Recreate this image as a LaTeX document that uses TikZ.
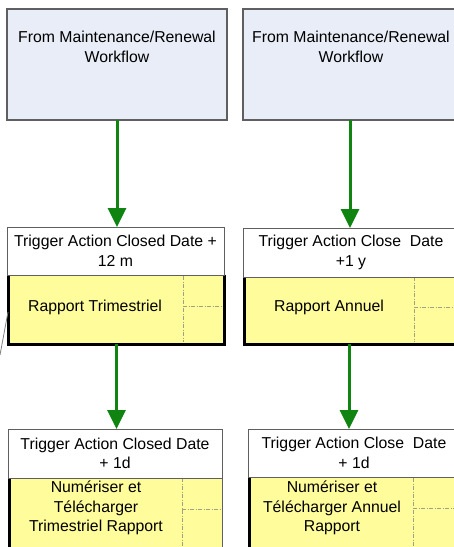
\documentclass[tikz,border=0pt]{standalone}
\usepackage{fontspec}
\setmainfont{Liberation Sans}
\usetikzlibrary{arrows.meta}
\definecolor{boxblue}{RGB}{232,237,247}
\definecolor{boxyellow}{RGB}{255,252,155}
\definecolor{arrowgreen}{RGB}{16,132,16}
\definecolor{bordergray}{RGB}{95,95,95}
\definecolor{divgray}{RGB}{160,160,130}
\begin{document}
\begin{tikzpicture}[x=1pt,y=-1pt,
  every node/.style={font=\fontsize{15.8}{19.5}\selectfont, inner sep=0pt, outer sep=0pt},
  bluebox/.style={draw=bordergray, line width=1.4pt, fill=boxblue, anchor=north west},
  trigbox/.style={draw=bordergray, line width=1pt, fill=white, anchor=north west, align=center},
  yellowbox/.style={fill=boxyellow, anchor=north west},
  yborder/.style={draw=black, line width=3pt},
  divider/.style={draw=divgray, line width=0.7pt, dash pattern=on 4pt off 1.5pt on 1pt off 1.5pt},
  greenarrow/.style={draw=arrowgreen, line width=3pt, -{Triangle[width=18pt,length=19pt]}, shorten >=0pt},
  lbl/.style={align=center, text=black},
  thinline/.style={draw=gray, line width=0.8pt}
]
\useasboundingbox (0,0) rectangle (454,547);

% ---- top blue boxes
\node[bluebox, minimum width=220pt, minimum height=111pt] (b1) at (7,9) {};
\node[lbl] (b1t) at (117,47) {From Maintenance/Renewal\\Workflow};
\node[bluebox, minimum width=216pt, minimum height=111pt] (b2) at (243,9) {};
\node[lbl] (b2t) at (351,47) {From Maintenance/Renewal\\Workflow};

% ---- upper yellow boxes
\node[yellowbox, minimum width=216pt, minimum height=69pt] (y1) at (8.5,275) {};
\draw[yborder] (y1.north west) |- (y1.south east) -- (y1.north east);
\draw[divider] (183,276) -- (183,342);
\draw[divider] (183,306) -- (223,306);
\node[lbl] (y1t) at (95,307) {Rapport Trimestriel};

\node[yellowbox, minimum width=218pt, minimum height=68pt] (y2) at (244.5,276) {};
\draw[yborder] (y2.north west) |- (y2.south east);
\draw[divider] (414,277) -- (414,342);
\draw[divider] (414,307) -- (454,307);
\node[lbl] (y2t) at (329,307) {Rapport Annuel};

% ---- upper trigger boxes
\node[trigbox, minimum width=217pt, minimum height=48pt] (t1) at (7,227) {Trigger Action Closed Date +\\12 m};
\node[trigbox, minimum width=216pt, minimum height=49pt] (t2) at (243,228) {Trigger Action Close\ \ Date\\+1 y};

% ---- lower yellow boxes
\node[yellowbox, minimum width=213pt, minimum height=80pt] (y3) at (9.5,477) {};
\draw[yborder] (y3.north west) -- (y3.south west);
\draw[bordergray, line width=0.8pt] (y3.north east) -- (y3.south east);
\draw[divider] (182,478) -- (182,547);
\draw[divider] (182,509) -- (222,509);
\node[lbl] (y3t) at (96,508) {Numériser et\\Télécharger\\Trimestriel Rapport};

\node[yellowbox, minimum width=213pt, minimum height=80pt] (y4) at (249.5,477) {};
\draw[yborder] (y4.north west) -- (y4.south west);
\draw[divider] (413,478) -- (413,547);
\draw[divider] (413,508) -- (454,508);
\node[lbl] (y4t) at (332,508) {Numériser et\\Télécharger Annuel\\Rapport};

% ---- lower trigger boxes
\node[trigbox, minimum width=214pt, minimum height=49pt] (t3) at (8,429) {Trigger Action Closed Date\\+ 1d};
\node[trigbox, minimum width=212pt, minimum height=48pt] (t4) at (248,429) {Trigger Action Close\ \ Date\\+ 1d};

% ---- arrows
\draw[greenarrow] (b1.south) -- (b1.south |- t1.north);
\draw[greenarrow] (350,120) -- (350,228);
\draw[greenarrow] (y1.south) -- (y1.south |- t3.north);
\draw[greenarrow] (349,344) -- (349,429);

% ---- stray connector at left
\coordinate (free) at (0,355);
\draw[thinline] (8,312) -- (free);
\end{tikzpicture}
\end{document}
